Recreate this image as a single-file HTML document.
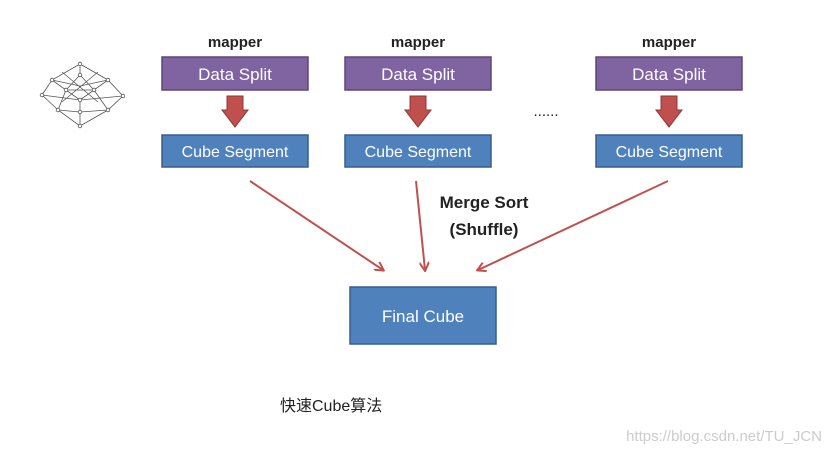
<!DOCTYPE html>
<html><head><style>
body{margin:0;background:#fff;}
svg{display:block;}
text{font-family:"Liberation Sans","Noto Sans CJK SC",sans-serif;}
</style></head><body>
<svg width="831" height="454" viewBox="0 0 831 454" xmlns="http://www.w3.org/2000/svg">
<defs>
<marker id="ah" markerWidth="10" markerHeight="10" refX="8" refY="5" orient="auto" markerUnits="userSpaceOnUse">
<path d="M0,0 L9,5 L0,10" fill="none" stroke="#c0504d" stroke-width="2"/>
</marker>
</defs>
<g stroke="#555" stroke-width="0.8" fill="none">
<path d="M80,64 L52,80 L42,95 L58,110 L80,126 L108,110 L123,96 L108,80 Z"/>
<path d="M52,80 L66,90 L58,110 M66,90 L94,90 L108,80 M94,90 L108,110 M80,64 L80,75 L66,90 M80,75 L94,90 M42,95 L80,100 L123,96 M66,90 L80,100 L94,90 M58,110 L80,112 L108,110 M80,100 L80,126 M52,80 L80,86 L108,80 M62,72 L98,102 M98,72 L62,102"/>
</g>
<g fill="#fff" stroke="#555" stroke-width="0.8">
<circle cx="80" cy="64" r="1.8"/><circle cx="52" cy="80" r="1.8"/><circle cx="42" cy="95" r="1.8"/><circle cx="58" cy="110" r="1.8"/><circle cx="80" cy="126" r="1.8"/><circle cx="108" cy="110" r="1.8"/><circle cx="123" cy="96" r="1.8"/><circle cx="108" cy="80" r="1.8"/><circle cx="66" cy="90" r="1.8"/><circle cx="94" cy="90" r="1.8"/><circle cx="80" cy="100" r="1.8"/><circle cx="80" cy="75" r="1.8"/><circle cx="80" cy="112" r="1.8"/>
</g>
<g id="c1">
<text x="235" y="47" font-size="15" font-weight="600" text-anchor="middle" fill="#222">mapper</text>
<rect x="162" y="57" width="146" height="33" fill="#8064a2" stroke="#5c4776" stroke-width="1.5"/>
<text x="235" y="80" font-size="17" text-anchor="middle" fill="#fff">Data Split</text>
<path d="M227,96 L243,96 L243,110 L248,110 L235,127 L222,110 L227,110 Z" fill="#c0504d" stroke="#8c3836" stroke-width="1"/>
<rect x="162" y="135" width="146" height="32" fill="#4f81bd" stroke="#385d8a" stroke-width="1.5"/>
<text x="235" y="157" font-size="16" text-anchor="middle" fill="#fff">Cube Segment</text>
</g>
<use href="#c1" x="183"/>
<use href="#c1" x="434"/>
<text x="546" y="116" font-size="15" text-anchor="middle" fill="#222">......</text>
<g stroke="#c0504d" stroke-width="2" marker-end="url(#ah)">
<line x1="250" y1="181" x2="383" y2="270"/>
<line x1="416" y1="181" x2="425" y2="270"/>
<line x1="668" y1="181" x2="478" y2="270"/>
</g>
<text x="484" y="208" font-size="17" font-weight="600" text-anchor="middle" fill="#222">Merge Sort</text>
<text x="484" y="235" font-size="17" font-weight="600" text-anchor="middle" fill="#222">(Shuffle)</text>
<rect x="350" y="287" width="146" height="57" fill="#4f81bd" stroke="#385d8a" stroke-width="1.5"/>
<text x="423" y="322" font-size="17" text-anchor="middle" fill="#fff">Final Cube</text>
<text x="280" y="411" font-size="16" fill="#222">快速Cube算法</text>
<text x="822" y="441" font-size="15" text-anchor="end" fill="#ccc">https://blog.csdn.net/TU_JCN</text>
</svg>
</body></html>
